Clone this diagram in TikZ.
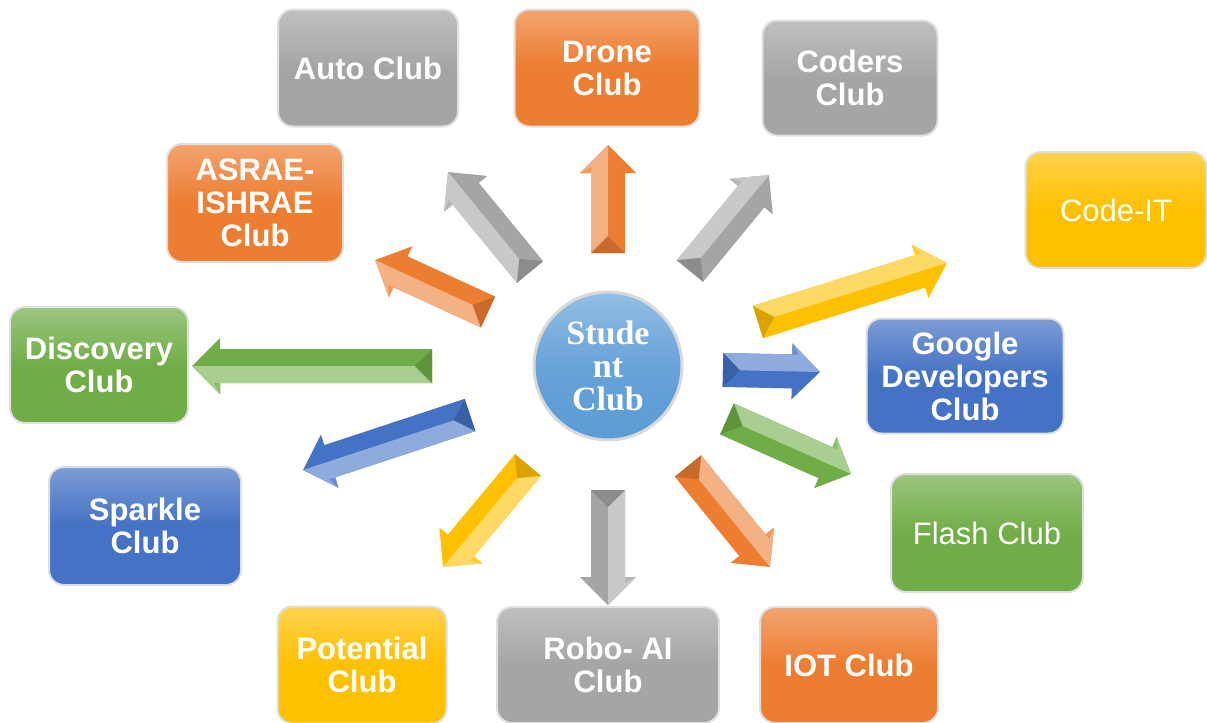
\documentclass[tikz,border=0pt]{standalone}
\usepackage{fontspec}
\setmainfont{Liberation Sans}
\newfontfamily\hubfont{Liberation Serif}
\usepackage{xcolor}
\usetikzlibrary{shapes}

\definecolor{clubOrange}{HTML}{ED7D31}
\definecolor{clubGray}{HTML}{A5A5A5}
\definecolor{clubYellow}{HTML}{FFC000}
\definecolor{clubBlue}{HTML}{4472C4}
\definecolor{clubGreen}{HTML}{70AD47}
\definecolor{clubSky}{HTML}{5B9BD5}

% fat bevelled arrow from a tail coordinate to a tip coordinate
\newcommand{\fatarrow}[3]{%
  \path (#1); \pgfgetlastxy{\tailx}{\taily}%
  \path (#2); \pgfgetlastxy{\tipx}{\tipy}%
  \pgfmathsetmacro{\arrang}{atan2(\tipy-\taily,\tipx-\tailx)}%
  \pgfmathsetmacro{\arrlen}{veclen(\tipx-\tailx,\tipy-\taily)}%
  \pgfmathsetmacro{\headbase}{\arrlen-14}%
  \begin{scope}[shift={(#1)}, rotate=\arrang]
    \fill[#3] (0pt,-8.5pt) -- (\headbase pt,-8.5pt) -- (\headbase pt,-14pt) -- (\arrlen pt,0pt)
      -- (\headbase pt,14pt) -- (\headbase pt,8.5pt) -- (0pt,8.5pt) -- cycle;
    \fill[#3!60!white] (0pt,0pt) -- (0pt,8.5pt) -- (\headbase pt,8.5pt) -- (\headbase pt,14pt)
      -- (\arrlen pt,0pt) -- cycle;
    \fill[#3!85!black] (0pt,-8.5pt) -- (8.5pt,0pt) -- (0pt,8.5pt) -- cycle;
    \fill[#3!80!white] (\headbase pt,8.5pt) -- (\headbase pt,14pt) -- (\headbase pt+3pt,8.5pt) -- cycle;
  \end{scope}}

\begin{document}
\begin{tikzpicture}[x=0.5pt, y=-0.5pt,
    clubbox/.style={rounded corners=7.5pt, draw=gray!25, line width=1pt,
      top color=#1!70!white, bottom color=#1, middle color=#1,
      text=white, align=center, inner sep=2pt,
      font=\fontsize{15.5}{16.5}\selectfont\bfseries},
    thinclub/.style={font=\fontsize{15.5}{16.5}\selectfont}]

    \useasboundingbox (0,0) rectangle (1207,723);

    %===========================
    % Hub
    %===========================
    \node (hub) at (608,366) [circle, minimum size=74pt, draw=gray!30, line width=1.5pt,
      top color=clubSky!65!white, bottom color=clubSky, middle color=clubSky!92!white,
      text=white, align=center, font=\hubfont\fontsize{17}{16.5}\selectfont\bfseries]
      {Stude\\nt\\Club};

    %===========================
    % Clubs
    %===========================
    \node (auto) at (368,68) [clubbox=clubGray, minimum width=90pt, minimum height=58.5pt] {Auto Club};
    \node (drone) at (607,68) [clubbox=clubOrange, minimum width=92.5pt, minimum height=58.5pt] {Drone\\Club};
    \node (coders) at (850,78) [clubbox=clubGray, minimum width=87.5pt, minimum height=57.5pt] {Coders\\Club};
    \node (codeit) at (1116,210) [clubbox=clubYellow, thinclub, minimum width=90.5pt, minimum height=58pt] {Code-IT};

    % Left Side
    \node (asrae) at (255,203) [clubbox=clubOrange, minimum width=88pt, minimum height=59pt] {ASRAE-\\ISHRAE\\Club};
    \node (discovery) at (99,365) [clubbox=clubGreen, minimum width=89pt, minimum height=58pt] {Discovery\\Club};
    \node (sparkle) at (145,526) [clubbox=clubBlue, minimum width=96pt, minimum height=59pt] {Sparkle\\Club};

    % Right Side
    \node (google) at (965,376) [clubbox=clubBlue, minimum width=98.5pt, minimum height=57.5pt] {Google\\Developers\\Club};
    \node (flash) at (987,533) [clubbox=clubGreen, thinclub, minimum width=96pt, minimum height=59pt] {Flash Club};

    % Bottom
    \node (potential) at (362,665) [clubbox=clubYellow, minimum width=84.5pt, minimum height=58.5pt] {Potential\\Club};
    \node (robo) at (608,665) [clubbox=clubGray, minimum width=111pt, minimum height=58pt] {Robo- AI\\Club};
    \node (iot) at (849,665) [clubbox=clubOrange, minimum width=89pt, minimum height=58pt] {IOT Club};

    %===========================
    % Arrows
    %===========================
    \coordinate (drone-tail) at (608,253);      \coordinate (drone-tip) at (608,145);
    \coordinate (auto-tail) at (530,272);       \coordinate (auto-tip) at (448,172);
    \coordinate (coders-tail) at (690,271);     \coordinate (coders-tip) at (769,175);
    \coordinate (asrae-tail) at (488,312);      \coordinate (asrae-tip) at (375,260);
    \coordinate (discovery-tail) at (432,366);  \coordinate (discovery-tip) at (192,366);
    \coordinate (codeit-tail) at (758,322);     \coordinate (codeit-tip) at (947,263);
    \coordinate (google-tail) at (723,370);     \coordinate (google-tip) at (820,372);
    \coordinate (flash-tail) at (727,419);      \coordinate (flash-tip) at (851,474);
    \coordinate (sparkle-tail) at (470,415);    \coordinate (sparkle-tip) at (303,470);
    \coordinate (potential-tail) at (528,465);  \coordinate (potential-tip) at (443,567);
    \coordinate (robo-tail) at (608,490);       \coordinate (robo-tip) at (608,605);
    \coordinate (iot-tail) at (688,466);        \coordinate (iot-tip) at (770,567);

    \fatarrow{drone-tail}{drone-tip}{clubOrange}
    \fatarrow{auto-tail}{auto-tip}{clubGray}
    \fatarrow{coders-tail}{coders-tip}{clubGray}
    \fatarrow{asrae-tail}{asrae-tip}{clubOrange}
    \fatarrow{discovery-tail}{discovery-tip}{clubGreen}
    \fatarrow{codeit-tail}{codeit-tip}{clubYellow}
    \fatarrow{google-tail}{google-tip}{clubBlue}
    \fatarrow{flash-tail}{flash-tip}{clubGreen}
    \fatarrow{sparkle-tail}{sparkle-tip}{clubBlue}
    \fatarrow{potential-tail}{potential-tip}{clubYellow}
    \fatarrow{robo-tail}{robo-tip}{clubGray}
    \fatarrow{iot-tail}{iot-tip}{clubOrange}

\end{tikzpicture}
\end{document}
